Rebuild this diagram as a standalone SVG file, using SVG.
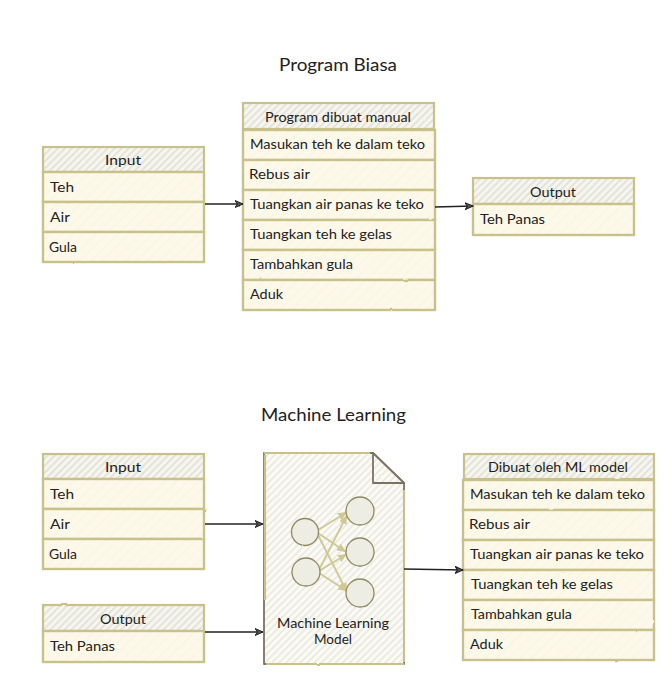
<svg xmlns="http://www.w3.org/2000/svg" width="672" height="682" viewBox="0 0 672 682">
<style>
text{font-family:"Lato","Open Sans",sans-serif;font-size:14px;fill:#222;}
.c{text-anchor:middle;}
.t{font-size:18px;}
.m{font-size:13px;}
.h{fill:url(#hh);stroke:#c9c18c;stroke-width:2.2;filter:url(#sk);}
.r{fill:url(#hr);stroke:#c9c18c;stroke-width:2.4;filter:url(#sk);}
.d{fill:url(#hd);stroke:#7c7264;stroke-width:1.8;stroke-linejoin:round;filter:url(#sk);}
.dk{fill:none;stroke:#c9c18c;stroke-width:2.2;filter:url(#sk);}
.n{fill:#eeede3;stroke:#8f8a62;stroke-width:1.3;filter:url(#sk);}
.e{fill:none;stroke:#cfc896;stroke-width:1.8;marker-end:url(#ak);}
.a{fill:none;stroke:#222;stroke-width:1.5;marker-end:url(#ab);filter:url(#sk);}
</style>
<defs>
<filter id="sk" filterUnits="userSpaceOnUse" x="0" y="0" width="672" height="682"><feTurbulence type="fractalNoise" baseFrequency="0.07" numOctaves="2" seed="4"/><feDisplacementMap in="SourceGraphic" scale="1.6" xChannelSelector="R" yChannelSelector="G"/></filter>
<pattern id="hh" width="5" height="5" patternUnits="userSpaceOnUse" patternTransform="rotate(45)"><rect width="5" height="5" fill="#f6f5ef"/><rect width="1.6" height="5" fill="#e0e0d4"/></pattern>
<pattern id="hr" width="8" height="8" patternUnits="userSpaceOnUse" patternTransform="rotate(45)"><rect width="8" height="8" fill="#fdf9ea"/><rect width="1.6" height="8" fill="#faf6e3"/></pattern>
<pattern id="hd" width="5" height="5" patternUnits="userSpaceOnUse" patternTransform="rotate(45)"><rect width="5" height="5" fill="#fbfaf5"/><rect width="1.8" height="5" fill="#eaeae0"/></pattern>
<marker id="ab" markerWidth="10" markerHeight="10" refX="8" refY="4" orient="auto" markerUnits="userSpaceOnUse"><path d="M0,0.5 L8,4 L0,7.5 L2.5,4 Z" fill="#555" stroke="#222" stroke-width="1"/></marker>
<marker id="ak" markerWidth="12" markerHeight="10" refX="9" refY="4" orient="auto" markerUnits="userSpaceOnUse"><path d="M0,0 L9,4 L0,8 Z" fill="#cfc896"/></marker>
</defs>
<text class="t" x="279" y="71" textLength="118" lengthAdjust="spacingAndGlyphs">Program Biasa</text>
<text class="t" x="261" y="421" textLength="145" lengthAdjust="spacingAndGlyphs">Machine Learning</text>
<g id="input-top">
<rect class="h" x="43" y="147" width="161" height="25"/>
<rect class="r" x="43" y="172" width="161" height="30"/><rect class="r" x="43" y="202" width="161" height="30"/><rect class="r" x="43" y="232" width="161" height="30"/>
<text class="c" x="123" y="165" textLength="36" lengthAdjust="spacingAndGlyphs">Input</text>
<text x="50" y="192" textLength="24" lengthAdjust="spacingAndGlyphs">Teh</text>
<text x="50" y="222" textLength="20" lengthAdjust="spacingAndGlyphs">Air</text>
<text x="49" y="252" textLength="28" lengthAdjust="spacingAndGlyphs">Gula</text>
</g>
<g id="program-manual">
<rect class="h" x="243" y="103" width="191" height="26"/>
<rect class="r" x="243" y="130" width="192" height="30"/><rect class="r" x="243" y="160" width="192" height="30"/><rect class="r" x="243" y="190" width="192" height="30"/><rect class="r" x="243" y="220" width="192" height="30"/><rect class="r" x="243" y="250" width="192" height="30"/><rect class="r" x="243" y="280" width="192" height="30"/>
<text x="265" y="122" textLength="146" lengthAdjust="spacingAndGlyphs">Program dibuat manual</text>
<text x="250" y="149" textLength="175" lengthAdjust="spacingAndGlyphs">Masukan teh ke dalam teko</text>
<text x="249" y="179" textLength="61" lengthAdjust="spacingAndGlyphs">Rebus air</text>
<text x="250" y="209" textLength="174" lengthAdjust="spacingAndGlyphs">Tuangkan air panas ke teko</text>
<text x="250" y="239" textLength="142" lengthAdjust="spacingAndGlyphs">Tuangkan teh ke gelas</text>
<text x="250" y="269" textLength="103" lengthAdjust="spacingAndGlyphs">Tambahkan gula</text>
<text x="250" y="299" textLength="33" lengthAdjust="spacingAndGlyphs">Aduk</text>
</g>
<g id="output-top">
<rect class="h" x="473" y="178" width="161" height="26"/>
<rect class="r" x="473" y="204" width="161" height="31"/>
<text x="530" y="197" textLength="46" lengthAdjust="spacingAndGlyphs">Output</text>
<text x="480" y="224" textLength="65" lengthAdjust="spacingAndGlyphs">Teh Panas</text>
</g>
<g id="input-bottom">
<rect class="h" x="43" y="454" width="161" height="25"/>
<rect class="r" x="43" y="479" width="161" height="30"/><rect class="r" x="43" y="509" width="161" height="30"/><rect class="r" x="43" y="539" width="161" height="30"/>
<text class="c" x="123" y="472" textLength="36" lengthAdjust="spacingAndGlyphs">Input</text>
<text x="50" y="499" textLength="24" lengthAdjust="spacingAndGlyphs">Teh</text>
<text x="50" y="529" textLength="20" lengthAdjust="spacingAndGlyphs">Air</text>
<text x="49" y="559" textLength="28" lengthAdjust="spacingAndGlyphs">Gula</text>
</g>
<g id="output-bottom">
<rect class="h" x="43" y="605" width="161" height="26"/>
<rect class="r" x="43" y="631" width="161" height="31"/>
<text x="100" y="624" textLength="46" lengthAdjust="spacingAndGlyphs">Output</text>
<text x="50" y="651" textLength="65" lengthAdjust="spacingAndGlyphs">Teh Panas</text>
</g>
<g id="ml-model">
<path class="d" d="M264,453 L373,453 L404,483 L404,664 L264,664 Z"/>
<path class="d" d="M373,453 L373,483 L404,483 Z"/>
<path class="dk" d="M264,453 L370,453 M265,455 L265,600 M404,490 L404,662 M266,664 L404,664"/>
<line class="e" x1="318" y1="530" x2="347" y2="512"/><line class="e" x1="318" y1="533" x2="346" y2="552"/><line class="e" x1="318" y1="535" x2="347" y2="592"/>
<line class="e" x1="319" y1="570" x2="347" y2="515"/><line class="e" x1="319" y1="571" x2="347" y2="554"/><line class="e" x1="319" y1="573" x2="347" y2="591"/>
<circle class="n" cx="305" cy="532" r="13.5"/><circle class="n" cx="306" cy="572" r="14"/>
<circle class="n" cx="360" cy="511" r="14"/><circle class="n" cx="360" cy="552" r="14"/><circle class="n" cx="360" cy="593" r="14"/>
<text class="c m" x="333" y="628" textLength="112" lengthAdjust="spacingAndGlyphs">Machine Learning</text>
<text class="c m" x="333" y="644" textLength="38" lengthAdjust="spacingAndGlyphs">Model</text>
</g>
<g id="ml-output">
<rect class="h" x="464" y="454" width="190" height="25"/>
<rect class="r" x="463" y="480" width="191" height="30"/><rect class="r" x="463" y="510" width="191" height="30"/><rect class="r" x="463" y="540" width="191" height="30"/><rect class="r" x="463" y="570" width="191" height="30"/><rect class="r" x="463" y="600" width="191" height="30"/><rect class="r" x="463" y="630" width="191" height="30"/>
<text x="488" y="472" textLength="140" lengthAdjust="spacingAndGlyphs">Dibuat oleh ML model</text>
<text x="470" y="499" textLength="175" lengthAdjust="spacingAndGlyphs">Masukan teh ke dalam teko</text>
<text x="469" y="529" textLength="61" lengthAdjust="spacingAndGlyphs">Rebus air</text>
<text x="470" y="559" textLength="174" lengthAdjust="spacingAndGlyphs">Tuangkan air panas ke teko</text>
<text x="471" y="589" textLength="142" lengthAdjust="spacingAndGlyphs">Tuangkan teh ke gelas</text>
<text x="471" y="619" textLength="101" lengthAdjust="spacingAndGlyphs">Tambahkan gula</text>
<text x="470" y="649" textLength="33" lengthAdjust="spacingAndGlyphs">Aduk</text>
</g>
<g id="connectors">
<path class="a" d="M205,204 L243,204"/>
<path class="a" d="M435,207 L473,206"/>
<path class="a" d="M205,524 L263,524"/>
<path class="a" d="M205,632 L263,632"/>
<path class="a" d="M404,569 L463,570"/>
</g>
</svg>
